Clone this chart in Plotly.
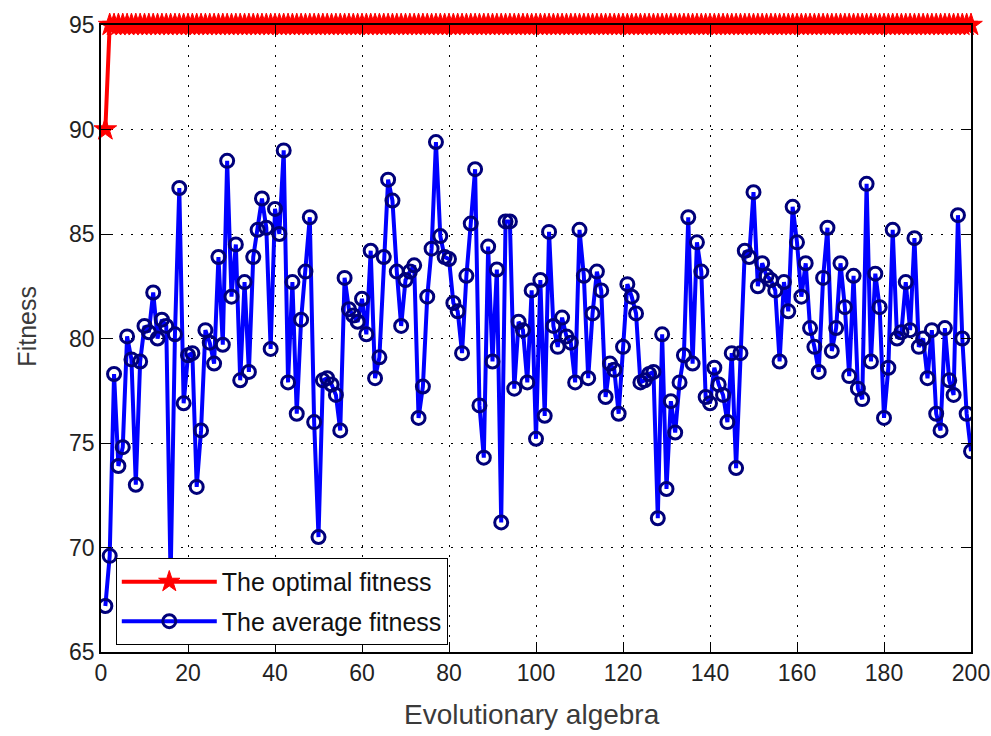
import plotly.graph_objects as go

generations = list(range(1, 201))
optimal_fitness = [90.0] + [95.0] * 199
average_fitness = [
    67.2, 69.6, 78.3, 73.9, 74.8, 80.1, 79.0, 73.0, 78.9, 80.6,
    80.3, 82.2, 80.0, 80.9, 80.6, 68.5, 80.2, 87.2, 76.9, 79.2,
    79.3, 72.9, 75.6, 80.4, 79.8, 78.8, 83.9, 79.7, 88.5, 82.0,
    84.5, 78.0, 82.7, 78.4, 83.9, 85.2, 86.7, 85.3, 79.5, 86.2,
    85.0, 89.0, 77.9, 82.7, 76.4, 80.9, 83.2, 85.8, 76.0, 70.5,
    78.0, 78.1, 77.8, 77.3, 75.6, 82.9, 81.4, 81.1, 80.8, 81.9,
    80.2, 84.2, 78.1, 79.1, 83.9, 87.6, 86.6, 83.2, 80.6, 82.8,
    83.2, 83.5, 76.2, 77.7, 82.0, 84.3, 89.4, 84.9, 83.9, 83.8,
    81.7, 81.3, 79.3, 83.0, 85.5, 88.1, 76.8, 74.3, 84.4, 78.9,
    83.3, 71.2, 85.6, 85.6, 77.6, 80.8, 80.4, 77.9, 82.3, 75.2,
    82.8, 76.3, 85.1, 80.6, 79.6, 81.0, 80.1, 79.8, 77.9, 85.2,
    83.0, 78.1, 81.2, 83.2, 82.3, 77.2, 78.8, 78.5, 76.4, 79.6,
    82.6, 82.0, 81.2, 77.9, 78.0, 78.3, 78.4, 71.4, 80.2, 72.8,
    77.0, 75.5, 77.9, 79.2, 85.8, 78.8, 84.6, 83.2, 77.2, 76.9,
    78.6, 77.8, 77.3, 76.0, 79.3, 73.8, 79.3, 84.2, 83.9, 87.0,
    82.5, 83.6, 83.0, 82.8, 82.3, 78.9, 82.7, 81.3, 86.3, 84.6,
    82.0, 83.6, 80.5, 79.6, 78.4, 82.9, 85.3, 79.4, 80.5, 83.6,
    81.5, 78.2, 83.0, 77.6, 77.1, 87.4, 78.9, 83.1, 81.5, 76.2,
    78.6, 85.2, 80.0, 80.3, 82.7, 80.4, 84.8, 79.6, 80.0, 78.1,
    80.4, 76.4, 75.6, 80.5, 78.0, 77.3, 85.9, 80.0, 76.4, 74.6,
]
x_ticks = [0, 20, 40, 60, 80, 100, 120, 140, 160, 180, 200]
y_ticks = [65, 70, 75, 80, 85, 90, 95]
x_title = "Evolutionary algebra"
y_title = "Fitness"

fig = go.Figure()
fig.add_trace(go.Scatter(
    x=generations, y=optimal_fitness, mode="lines+markers",
    name="The optimal fitness", legendgroup="opt",
    line=dict(color="#ff0000", width=4),
    marker=dict(symbol="star", size=17, color="#ff0000",
                line=dict(color="#ff0000", width=1)),
    cliponaxis=False,
))
fig.add_trace(go.Scatter(
    x=generations, y=average_fitness, mode="lines+markers",
    name="The average fitness", legendgroup="avg",
    line=dict(color="#0000ff", width=4),
    marker=dict(symbol="circle-open", size=13, color="#00007a",
                line=dict(color="#00007a", width=3)),
))

family = "Liberation Sans, Arial, sans-serif"
tick_font = dict(family=family, size=23, color="#222222")
fig.update_layout(
    width=991, height=736,
    margin=dict(l=101, r=20, t=25, b=84),
    paper_bgcolor="white", plot_bgcolor="white",
    font=tick_font,
    showlegend=True,
    legend=dict(
        x=0.017, y=0.150, xanchor="left", yanchor="top",
        bgcolor="white", bordercolor="black", borderwidth=1,
        font=dict(family=family, size=25, color="#111111"),
        itemwidth=95, tracegroupgap=4,
    ),
    xaxis=dict(
        range=[0, 200], tickvals=x_ticks, ticks="inside", ticklen=10,
        tickcolor="black", showline=True, linecolor="black", linewidth=1.5,
        mirror="ticks", showgrid=True, gridcolor="black", gridwidth=1,
        griddash="2px,8px", zeroline=False, tickfont=tick_font,
        automargin=False,
    ),
    yaxis=dict(
        range=[65, 95], tickvals=y_ticks, ticks="inside", ticklen=10,
        tickcolor="black", showline=True, linecolor="black", linewidth=1.5,
        mirror="ticks", showgrid=True, gridcolor="black", gridwidth=1,
        griddash="2px,8px", zeroline=False, tickfont=tick_font,
        automargin=False,
    ),
    annotations=[
        dict(text=x_title, xref="paper", yref="paper", x=0.495, y=-0.100,
             xanchor="center", yanchor="middle", showarrow=False,
             font=dict(family=family, size=28, color="#3a3a3a")),
        dict(text=y_title, xref="paper", yref="paper", x=-0.085, y=0.519,
             xanchor="center", yanchor="middle", showarrow=False, textangle=-90,
             font=dict(family=family, size=25, color="#3a3a3a")),
    ],
)

fig.write_html("out.html")
